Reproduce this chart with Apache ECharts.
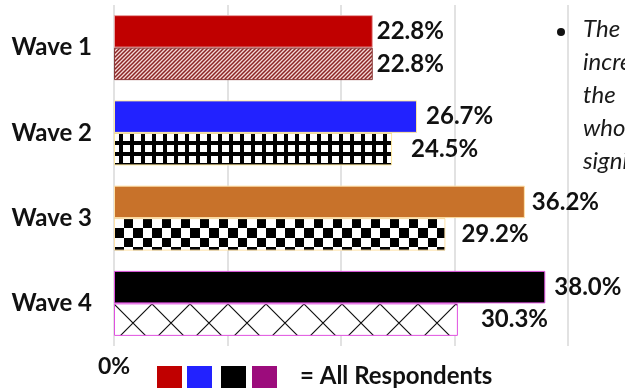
<!DOCTYPE html>
<html>
<head>
<meta charset="utf-8">
<script src="https://cdn.jsdelivr.net/npm/echarts@6/dist/echarts.min.js"></script>
<style>html,body{margin:0;padding:0;background:#fff}#c{width:625px;height:388px}</style>
</head>
<body>
<div id="c"></div>
<script>
const categories = ['Wave 1', 'Wave 2', 'Wave 3', 'Wave 4'];
const allRespondents = [22.8, 26.7, 36.2, 38.0];
const subgroup = [22.8, 24.5, 29.2, 30.3];
const xTicks = [0, 10, 20, 30, 40];
const legendText = '= All Respondents';
const noteLines = ['The', 'increase', 'the', 'who', 'significant'];

// styling (not data)
const solidColors = ['#C00000', '#2222FF', '#C8722A', '#000000'];
const solidBorders = ['#E8A0A0', '#FFE9A0', '#FFE2A8', '#E050E0'];
const hatchBorders = ['#8B3A3A', '#FFE9A0', '#FFE2A8', '#E050E0'];
const solidGap = [4, 9, 7, 9];
const hatchGap = [4, 19, 16, 23];
const legendColors = ['#C00000', '#2222FF', '#000000', '#9C0C7C'];

function mk(w, h, draw) {
  const c = document.createElement('canvas');
  c.width = w; c.height = h;
  draw(c.getContext('2d'));
  return { image: c, repeat: 'repeat' };
}
const stripes = mk(4, 4, g => {
  g.fillStyle = '#F4D8D6'; g.fillRect(0, 0, 4, 4);
  g.strokeStyle = '#8B2525'; g.lineWidth = 1.5;
  g.beginPath();
  g.moveTo(-1, 5); g.lineTo(5, -1);
  g.moveTo(-3, 3); g.lineTo(3, -3);
  g.moveTo(1, 7); g.lineTo(7, 1);
  g.stroke();
});
const gridPat = mk(11, 11, g => {
  g.fillStyle = '#000'; g.fillRect(0, 0, 11, 11);
  g.fillStyle = '#fff'; g.fillRect(2, 2, 7, 7);
});
const checker = mk(19, 19, g => {
  g.fillStyle = '#fff'; g.fillRect(0, 0, 19, 19);
  g.fillStyle = '#000'; g.fillRect(0, 0, 10, 10); g.fillRect(10, 10, 9, 9);
});
const cross = mk(38, 38, g => {
  g.fillStyle = '#fff'; g.fillRect(0, 0, 38, 38);
  g.strokeStyle = '#111'; g.lineWidth = 1.2;
  g.beginPath();
  g.moveTo(0, 0); g.lineTo(38, 38);
  g.moveTo(0, 38); g.lineTo(38, 0);
  g.stroke();
});
const patterns = [stripes, gridPat, checker, cross];

const labelStyle = { show: true, position: 'right', fontFamily: 'Lato', fontWeight: 'bold', fontSize: 24, color: '#111',
  formatter: p => p.value.toFixed(1) + '%' };

const solidData = allRespondents.map((v, i) => ({
  value: v,
  itemStyle: { color: solidColors[i], borderColor: solidBorders[i], borderWidth: 1 },
  label: Object.assign({}, labelStyle, { distance: solidGap[i] })
}));
const hatchData = subgroup.map((v, i) => ({
  value: v,
  itemStyle: { color: patterns[i], borderColor: hatchBorders[i], borderWidth: 1 },
  label: Object.assign({}, labelStyle, { distance: hatchGap[i] })
}));

const chart = echarts.init(document.getElementById('c'), null, { renderer: 'canvas' });
const legendGraphics = legendColors.map((col, i) => ({
  type: 'rect', left: [157, 187, 221, 252][i], top: 366,
  shape: { width: 25, height: 22 }, style: { fill: col }
}));
chart.setOption({
  animation: false,
  backgroundColor: '#fff',
  textStyle: { fontFamily: 'Lato' },
  grid: { left: 114, right: 57, top: 5, bottom: 42 },
  xAxis: {
    type: 'value', min: xTicks[0], max: xTicks[xTicks.length - 1], interval: 10,
    axisLine: { show: false }, axisTick: { show: false },
    splitLine: { show: true, lineStyle: { color: '#D9D9D9', width: 1.5 } },
    axisLabel: { margin: 9, fontFamily: 'Lato', fontWeight: 'bold', fontSize: 23, color: '#111',
      formatter: v => v === 0 ? '0%' : '' }
  },
  yAxis: {
    type: 'category', data: categories, inverse: true,
    axisLine: { show: false }, axisTick: { show: false },
    axisLabel: { margin: 22, fontFamily: 'Lato', fontWeight: 'bold', fontSize: 24, color: '#111' }
  },
  series: [
    { type: 'bar', data: solidData, barWidth: 32.5, barGap: '0%' },
    { type: 'bar', data: hatchData, barWidth: 32.5, barGap: '0%' }
  ],
  graphic: legendGraphics.concat([
    { type: 'text', left: 300, top: 364, style: { text: legendText, font: 'bold 24px Lato', fill: '#111' } },
    { type: 'circle', shape: { cx: 561, cy: 32, r: 4 }, style: { fill: '#111' } }
  ]).concat(noteLines.map((t, i) => ({
    type: 'text', left: 583, top: 17 + i * 33,
    style: { text: t, font: 'italic 24px Lato', fill: '#1a1a1a' }
  })))
});
</script>
</body>
</html>
